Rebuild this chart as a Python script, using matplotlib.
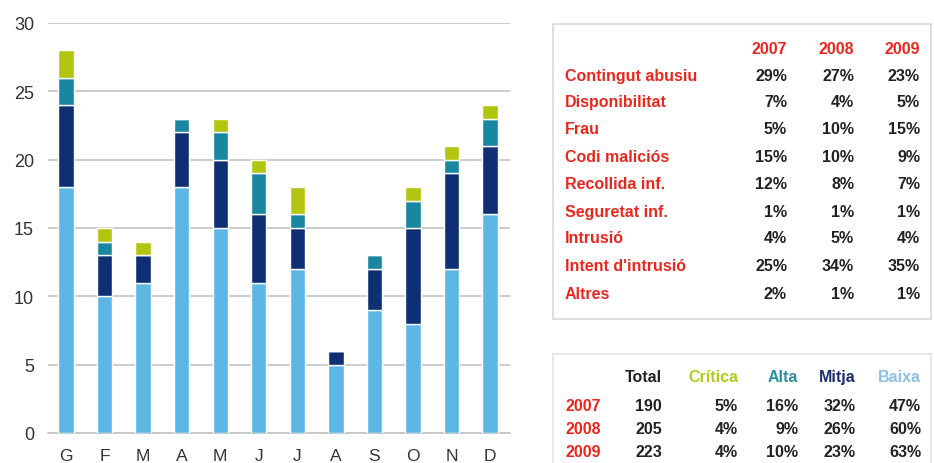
import matplotlib.pyplot as plt
from matplotlib.patches import Rectangle
import numpy as np

plt.rcParams['font.family'] = ['Liberation Sans', 'DejaVu Sans']

# Monthly incidents by severity
months = ["G", "F", "M", "A", "M", "J", "J", "A", "S", "O", "N", "D"]
baixa = [18, 10, 11, 18, 15, 11, 12, 5, 9, 8, 12, 16]
mitja = [6, 3, 2, 4, 5, 5, 3, 1, 3, 7, 7, 5]
alta = [2, 1, 0, 1, 2, 3, 1, 0, 1, 2, 1, 2]
critica = [2, 1, 1, 0, 1, 1, 2, 0, 0, 1, 1, 1]

# Incident type share per year
years = ["2007", "2008", "2009"]
types = ["Contingut abusiu", "Disponibilitat", "Frau", "Codi maliciós",
         "Recollida inf.", "Seguretat inf.", "Intrusió", "Intent d'intrusió", "Altres"]
share_2007 = [29, 7, 5, 15, 12, 1, 4, 25, 2]
share_2008 = [27, 4, 10, 10, 8, 1, 5, 34, 1]
share_2009 = [23, 5, 15, 9, 7, 1, 4, 35, 1]

# Totals and severity share per year
totals = [190, 205, 223]
sev_names = ["Crítica", "Alta", "Mitja", "Baixa"]
sev_critica = [5, 4, 4]
sev_alta = [16, 9, 10]
sev_mitja = [32, 26, 23]
sev_baixa = [47, 60, 63]

C_BAIXA = "#5cb6e6"
C_MITJA = "#0e2f74"
C_ALTA = "#1a87a2"
C_CRIT = "#b3c60f"
RED = "#e8281c"
DARK = "#222222"
FS = 11.5
BASE = 4  # baseline offset from row centre, px

W, H = 934, 464
fig = plt.figure(figsize=(W / 100, H / 100), dpi=100)

# --- stacked bars ---
ax = fig.add_axes([48 / W, 1 - 434 / H, (510 - 48) / W, (434 - 24) / H])
x = np.arange(len(months))
bottom = np.zeros(len(months))
for vals, col in [(baixa, C_BAIXA), (mitja, C_MITJA), (alta, C_ALTA), (critica, C_CRIT)]:
    ax.bar(x, vals, bottom=bottom, width=0.4, color=col, edgecolor="white",
           linewidth=1.0, zorder=3)
    bottom += np.array(vals)

ax.set_xlim(-0.47, 11.52)
ax.set_ylim(0, 30)
ax.set_yticks(range(0, 31, 5))
ax.set_xticks(x)
ax.set_xticklabels(months)
ax.yaxis.grid(True, color="#c4c4c4", linewidth=1.2, zorder=0)
for s in ["top", "right", "left"]:
    ax.spines[s].set_visible(False)
ax.spines["bottom"].set_color("#c4c4c4")
ax.spines["bottom"].set_linewidth(1.2)
ax.tick_params(axis="both", length=0, labelsize=13, labelcolor="#333333")
ax.tick_params(axis="y", pad=10)
ax.tick_params(axis="x", pad=11, labelsize=12.5)


def fx(px):
    return px / W


def fy(py):
    return 1 - (py + BASE) / H


def cell(px, py, s, color, ha):
    fig.text(fx(px), fy(py), s, color=color, fontsize=FS, fontweight="bold",
             ha=ha, va="baseline")


# --- table 1: incident types ---
fig.patches.append(Rectangle((553 / W, 1 - 320 / H), (931 - 553) / W, (320 - 25) / H,
                             transform=fig.transFigure, facecolor="white",
                             edgecolor="#d8d8d8", linewidth=1.2))
col_right = [787, 854, 920]
for yr, cx in zip(years, col_right):
    cell(cx, 50, yr, RED, "right")
row_y = [77, 103, 130, 158, 185, 213, 239, 267, 295]
for name, ry, a, b, c in zip(types, row_y, share_2007, share_2008, share_2009):
    cell(565, ry, name, RED, "left")
    for v, cx in zip([a, b, c], col_right):
        cell(cx, ry, f"{v}%", DARK, "right")

# --- table 2: totals and severity ---
fig.patches.append(Rectangle((553 / W, 1 - 470 / H), (931 - 553) / W, (470 - 355) / H,
                             transform=fig.transFigure, facecolor="white",
                             edgecolor="#e4e4e4", linewidth=1.2))
head_right = [662, 738, 798, 856, 921]
head_cols = [DARK, "#b0cb1c", "#2a8ea2", "#1c2c72", "#8cc0e2"]
for name, cx, col in zip(["Total"] + sev_names, head_right, head_cols):
    cell(cx, 378, name, col, "right")
for i, (yr, ry) in enumerate(zip(years, [407, 430, 453])):
    cell(566, ry, yr, RED, "left")
    vals = [str(totals[i]), f"{sev_critica[i]}%", f"{sev_alta[i]}%",
            f"{sev_mitja[i]}%", f"{sev_baixa[i]}%"]
    for v, cx in zip(vals, head_right):
        cell(cx, ry, v, DARK, "right")

fig.savefig("out.png", dpi=100)
